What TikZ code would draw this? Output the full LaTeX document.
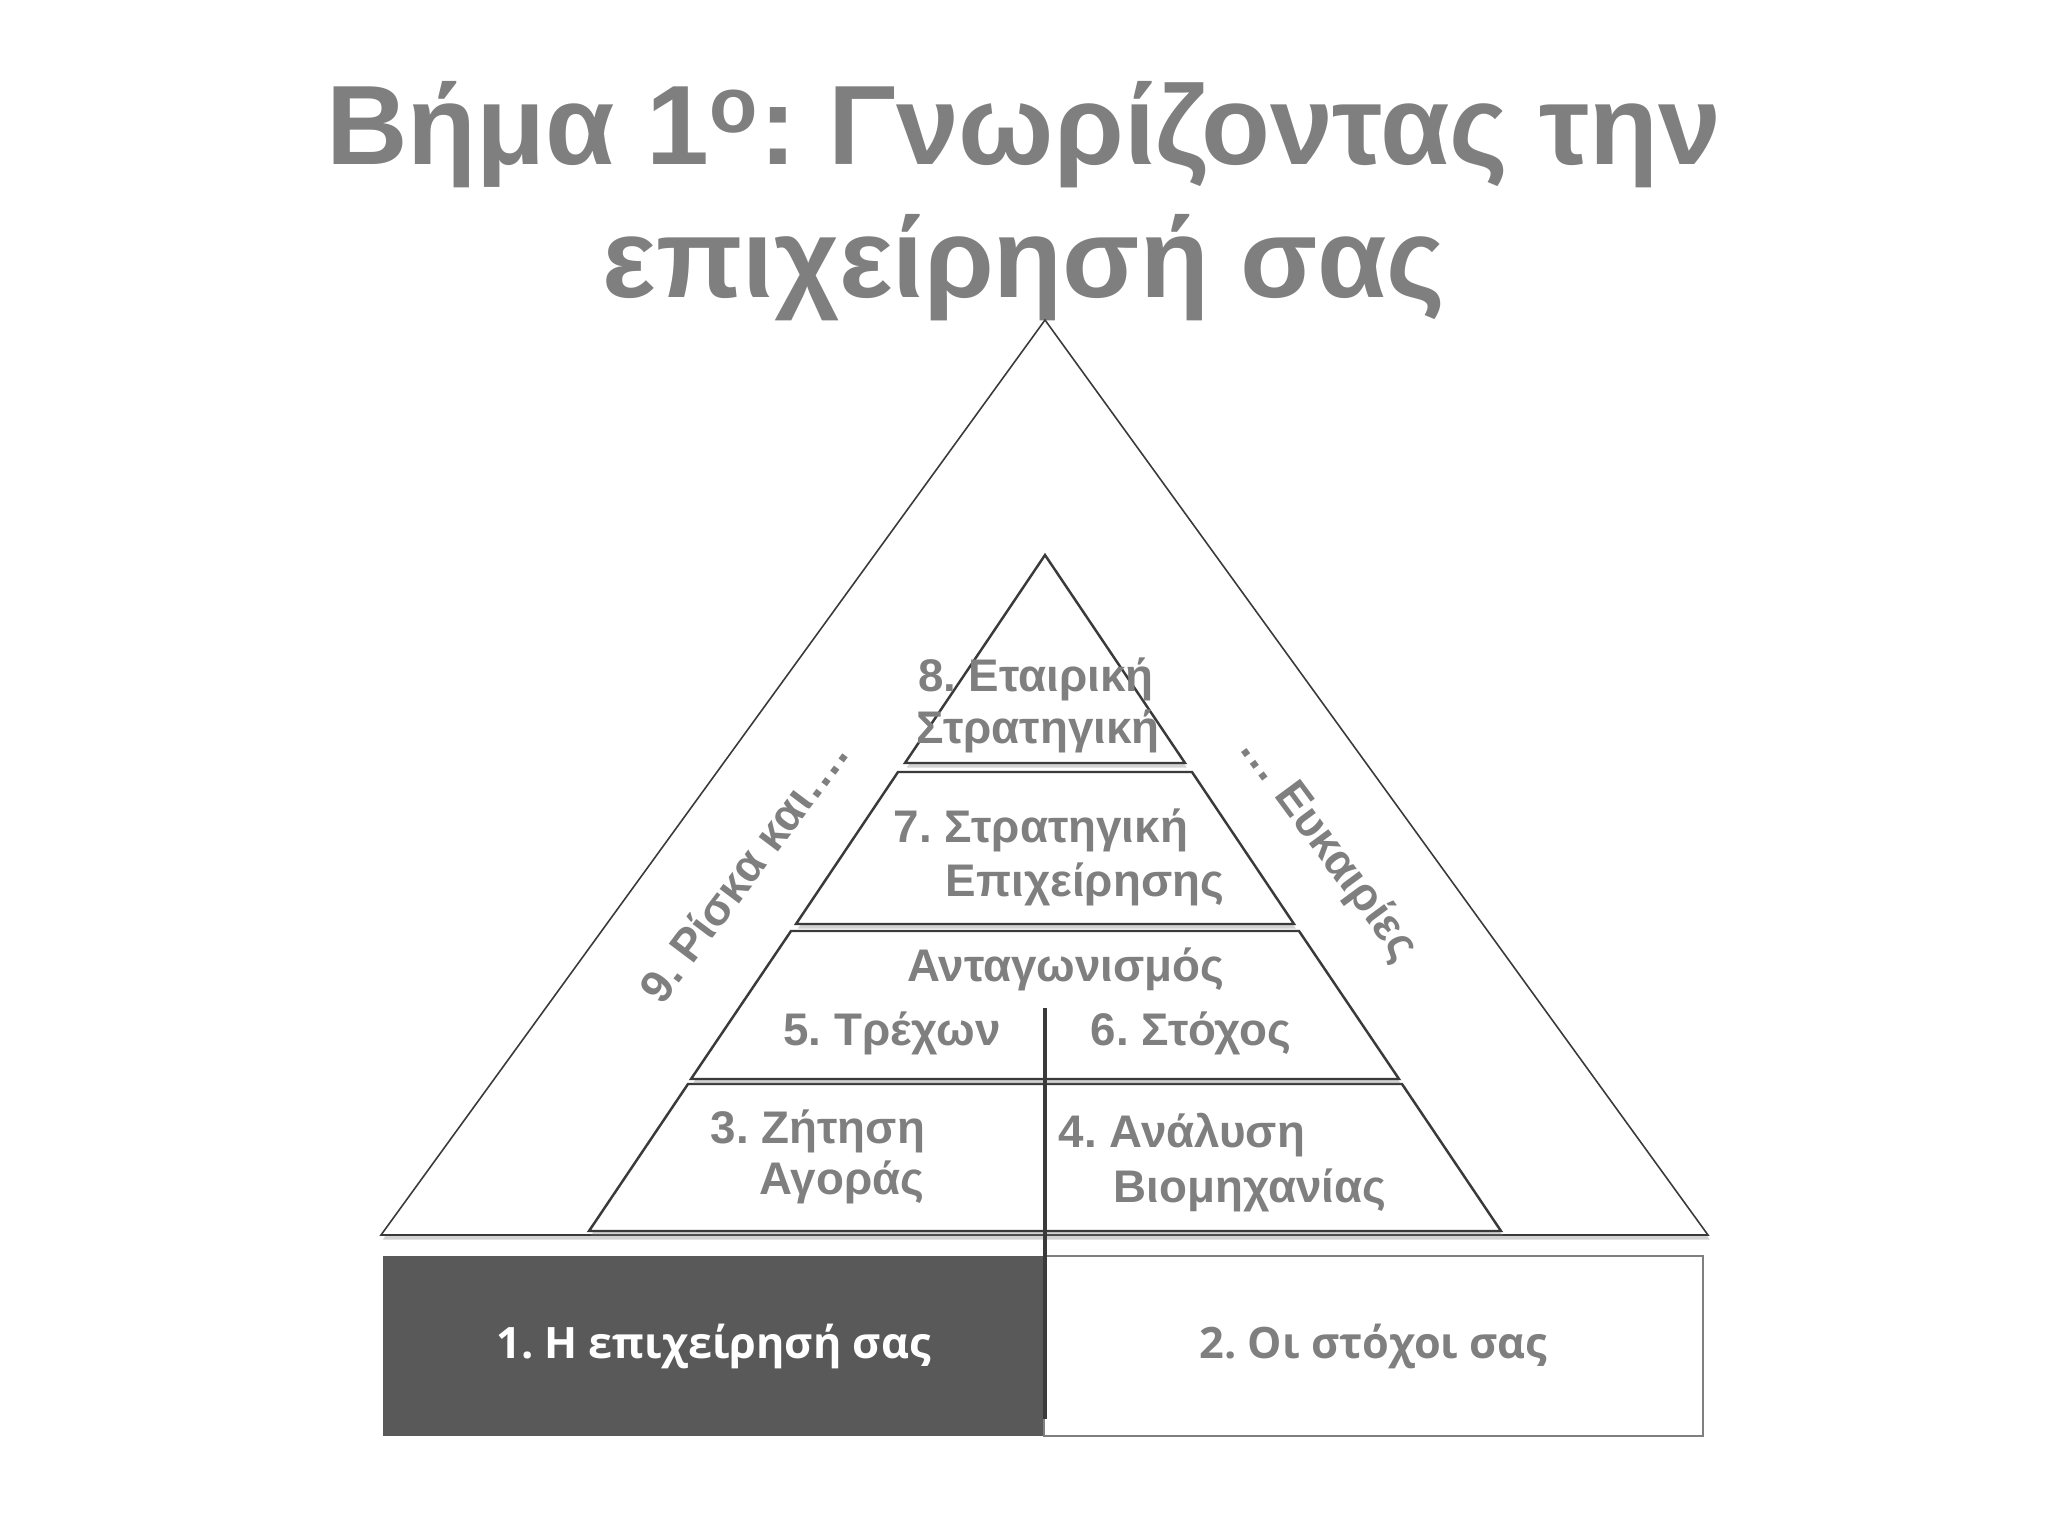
\documentclass[tikz,border=0pt]{standalone}
\usepackage{fontspec}
\setmainfont{Liberation Sans}
\newfontfamily\boxfont{Open Sans}
\usetikzlibrary{shadows}
\frenchspacing

\definecolor{textgray}{HTML}{7F7F7F}
\definecolor{boxdark}{HTML}{595959}
\definecolor{linegray}{HTML}{3A3A3A}

\begin{document}
\begin{tikzpicture}[x=0.01cm, y=-0.01cm,
    level/.style={draw=linegray, line width=0.7pt, fill=white,
        drop shadow={shadow xshift=0.5pt, shadow yshift=-1.3pt, opacity=0.35}},
    lbl/.style={text=textgray, font=\bfseries\fontsize{13}{15}\selectfont, inner sep=0pt},
    boxlbl/.style={font=\boxfont\bfseries\fontsize{12.3}{15}\selectfont},
]
    \useasboundingbox (0,0) rectangle (2048,1536);

    % Title
    \node[text=textgray, font=\bfseries\fontsize{32.1}{39}\selectfont, anchor=base] (title1) at (1024,164) {Βήμα 1\textsuperscript{ο}: Γνωρίζοντας την};
    \node[text=textgray, font=\bfseries\fontsize{32.1}{39}\selectfont, anchor=base] (title2) at (1024,297) {επιχείρησή σας};

    % Outer triangle
    \draw[level, line width=0.45pt] (1045,320) -- (1708,1235) -- (381,1235) -- cycle;

    % Inner pyramid, bottom to top
    \draw[level] (688,1084) -- (1402,1084) -- (1501,1231) -- (589,1231) -- cycle;
    \draw[level] (791,931) -- (1299,931) -- (1399,1079) -- (691,1079) -- cycle;
    \draw[level] (898,772) -- (1192,772) -- (1294,924) -- (796,924) -- cycle;
    \draw[level] (1045,555) -- (1185,763) -- (905,763) -- cycle;

    % Bottom boxes
    \node[rectangle, fill=boxdark, minimum width=6.61cm, minimum height=1.8cm, inner sep=0pt,
        text=white, boxlbl] (own) at (713.5,1346) {1. Η επιχείρησή σας};
    \node[rectangle, draw=textgray, line width=0.5pt, fill=white, minimum width=6.59cm, minimum height=1.8cm,
        inner sep=0pt, text=textgray, boxlbl] (goals) at (1373.5,1346) {2. Οι στόχοι σας};

    % Divider
    \coordinate (divtop) at (1045,1008);
    \coordinate (divbot) at (1045,1419);
    \draw[linegray, line width=1.1pt] (divtop) -- (divbot);

    % Labels
    \node[lbl, anchor=base] (corp1) at (1036,691) {8. Εταιρική};
    \node[lbl, anchor=base] (corp2) at (1038,743) {Στρατηγική};
    \node[lbl, anchor=base] (strat1) at (1041,842) {7. Στρατηγική};
    \node[lbl, anchor=base] (strat2) at (1085,896) {Επιχείρησης};
    \node[lbl, anchor=base] (comp) at (1066,981) {Ανταγωνισμός};
    \node[lbl, anchor=base] (now) at (892,1045) {5. Τρέχων};
    \node[lbl, anchor=base] (target) at (1191,1045) {6. Στόχος};
    \node[lbl, anchor=base] (demand1) at (818,1143) {3. Ζήτηση};
    \node[lbl, anchor=base] (demand2) at (842,1194) {Αγοράς};
    \node[lbl, anchor=base] (industry1) at (1182,1147) {4. Ανάλυση};
    \node[lbl, anchor=base] (industry2) at (1250,1202) {Βιομηχανίας};
    \node[lbl, rotate=53] (risk) at (743,871) {9. Ρίσκα και….};
    \node[lbl, rotate=-53.5] (chance) at (1328,849) {… Ευκαιρίες};
\end{tikzpicture}
\end{document}
